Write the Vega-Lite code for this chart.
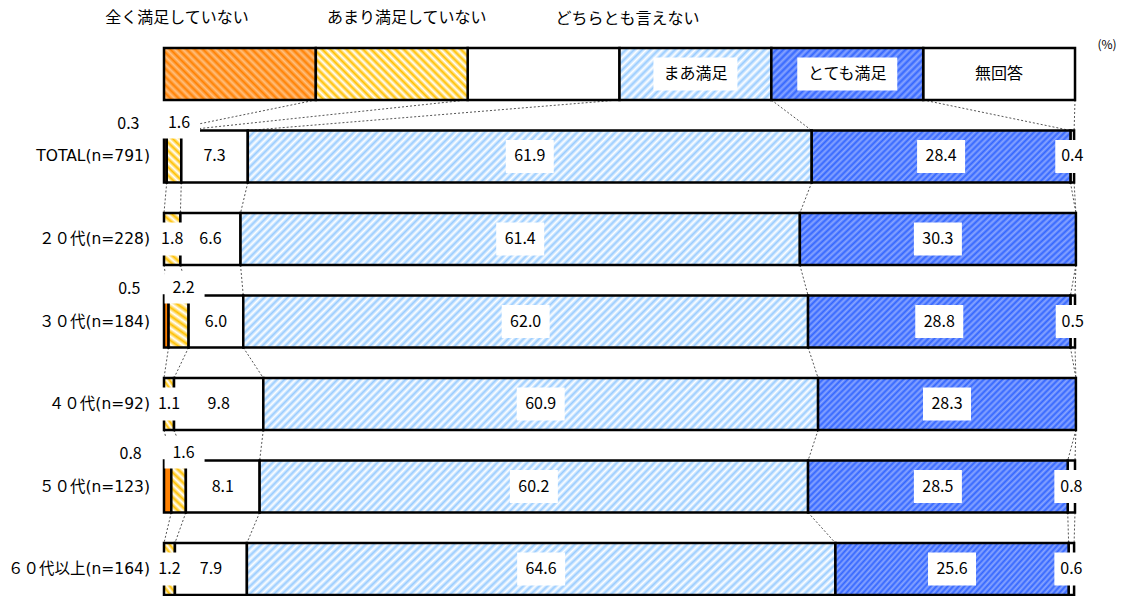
{
"$schema":"https://vega.github.io/schema/vega-lite/v6.json",
"width":911,"height":547,
"autosize":{"type":"none"},
"padding":{"left":164,"top":48,"right":58,"bottom":1},
"config":{"view":{"stroke":null},"text":{"font":"Noto Sans CJK JP","fontSize":16}},
"data":{"values":[
{"g":"legend","r":0,"k":1,"c":"全く満足していない","v":16.667},
{"g":"legend","r":0,"k":2,"c":"あまり満足していない","v":16.667},
{"g":"legend","r":0,"k":3,"c":"どちらとも言えない","v":16.667},
{"g":"legend","r":0,"k":4,"c":"まあ満足","v":16.667},
{"g":"legend","r":0,"k":5,"c":"とても満足","v":16.667},
{"g":"legend","r":0,"k":6,"c":"無回答","v":16.667},
{"g":"TOTAL(n=791)","r":1,"k":1,"v":0.3},{"g":"TOTAL(n=791)","r":1,"k":2,"v":1.6},{"g":"TOTAL(n=791)","r":1,"k":3,"v":7.3},{"g":"TOTAL(n=791)","r":1,"k":4,"v":61.9},{"g":"TOTAL(n=791)","r":1,"k":5,"v":28.4},{"g":"TOTAL(n=791)","r":1,"k":6,"v":0.4},
{"g":"２０代(n=228)","r":2,"k":1,"v":0},{"g":"２０代(n=228)","r":2,"k":2,"v":1.8},{"g":"２０代(n=228)","r":2,"k":3,"v":6.6},{"g":"２０代(n=228)","r":2,"k":4,"v":61.4},{"g":"２０代(n=228)","r":2,"k":5,"v":30.3},{"g":"２０代(n=228)","r":2,"k":6,"v":0},
{"g":"３０代(n=184)","r":3,"k":1,"v":0.5},{"g":"３０代(n=184)","r":3,"k":2,"v":2.2},{"g":"３０代(n=184)","r":3,"k":3,"v":6.0},{"g":"３０代(n=184)","r":3,"k":4,"v":62.0},{"g":"３０代(n=184)","r":3,"k":5,"v":28.8},{"g":"３０代(n=184)","r":3,"k":6,"v":0.5},
{"g":"４０代(n=92)","r":4,"k":1,"v":0},{"g":"４０代(n=92)","r":4,"k":2,"v":1.1},{"g":"４０代(n=92)","r":4,"k":3,"v":9.8},{"g":"４０代(n=92)","r":4,"k":4,"v":60.9},{"g":"４０代(n=92)","r":4,"k":5,"v":28.3},{"g":"４０代(n=92)","r":4,"k":6,"v":0},
{"g":"５０代(n=123)","r":5,"k":1,"v":0.8},{"g":"５０代(n=123)","r":5,"k":2,"v":1.6},{"g":"５０代(n=123)","r":5,"k":3,"v":8.1},{"g":"５０代(n=123)","r":5,"k":4,"v":60.2},{"g":"５０代(n=123)","r":5,"k":5,"v":28.5},{"g":"５０代(n=123)","r":5,"k":6,"v":0.8},
{"g":"６０代以上(n=164)","r":6,"k":1,"v":0},{"g":"６０代以上(n=164)","r":6,"k":2,"v":1.2},{"g":"６０代以上(n=164)","r":6,"k":3,"v":7.9},{"g":"６０代以上(n=164)","r":6,"k":4,"v":64.6},{"g":"６０代以上(n=164)","r":6,"k":5,"v":25.6},{"g":"６０代以上(n=164)","r":6,"k":6,"v":0.6}
]},
"transform":[
{"stack":"v","groupby":["g"],"sort":[{"field":"k","order":"ascending"}],"as":["x0","x1"]},
{"window":[{"op":"lead","field":"x1","as":"nx"},{"op":"lead","field":"g","as":"ng"}],"groupby":["k"],"sort":[{"field":"r","order":"ascending"}]},
{"window":[{"op":"lag","field":"v","as":"pv"}],"groupby":["g"],"sort":[{"field":"k","order":"ascending"}]},
{"calculate":"(datum.x0+datum.x1)/2","as":"xm"}
],
"layer":[
{"transform":[{"filter":"datum.ng != null"}],
 "mark":{"type":"rule","stroke":"#555","strokeWidth":1,"strokeDash":[2,2]},
 "encoding":{"x":{"field":"x1","type":"quantitative","scale":{"domain":[0,100],"nice":false,"zero":false},"axis":null},"x2":{"field":"nx"},
 "y":{"field":"g","type":"nominal","bandPosition":1,"scale":{"domain":["legend","TOTAL(n=791)","２０代(n=228)","３０代(n=184)","４０代(n=92)","５０代(n=123)","６０代以上(n=164)"],"paddingInner":0.37,"paddingOuter":0},"axis":null},"y2":{"field":"ng","bandPosition":0}}},

{"transform":[{"filter":"datum.r>0 && datum.k==1 && datum.v>0"}],
 "mark":{"type":"bar","fill":"#ff8000","stroke":"#000","strokeWidth":2.5},
 "encoding":{"x":{"field":"x0","type":"quantitative","scale":{"domain":[0,100],"nice":false,"zero":false},"axis":null},"x2":{"field":"x1"},"y":{"field":"g","type":"nominal","scale":{"domain":["legend","TOTAL(n=791)","２０代(n=228)","３０代(n=184)","４０代(n=92)","５０代(n=123)","６０代以上(n=164)"],"paddingInner":0.37,"paddingOuter":0},"axis":null}}},

{"transform":[{"filter":"datum.r>0 && datum.k==2 && datum.v>0"}],
 "mark":{"type":"bar","stroke":"#000","strokeWidth":2.5,"fill":{"gradient":"linear","x1":0,"y1":1,"x2":0.3186,"y2":-0.1835,"stops":[{"offset":0,"color":"#ffc000"},{"offset":0.0625,"color":"#fff"},{"offset":0.125,"color":"#ffc000"},{"offset":0.1875,"color":"#fff"},{"offset":0.25,"color":"#ffc000"},{"offset":0.3125,"color":"#fff"},{"offset":0.375,"color":"#ffc000"},{"offset":0.4375,"color":"#fff"},{"offset":0.5,"color":"#ffc000"},{"offset":0.5625,"color":"#fff"},{"offset":0.625,"color":"#ffc000"},{"offset":0.6875,"color":"#fff"},{"offset":0.75,"color":"#ffc000"},{"offset":0.8125,"color":"#fff"},{"offset":0.875,"color":"#ffc000"},{"offset":0.9375,"color":"#fff"},{"offset":1,"color":"#ffc000"}]}},
 "encoding":{"x":{"field":"x0","type":"quantitative","scale":{"domain":[0,100],"nice":false,"zero":false},"axis":null},"x2":{"field":"x1"},"y":{"field":"g","type":"nominal","scale":{"domain":["legend","TOTAL(n=791)","２０代(n=228)","３０代(n=184)","４０代(n=92)","５０代(n=123)","６０代以上(n=164)"],"paddingInner":0.37,"paddingOuter":0},"axis":null}}},

{"transform":[{"filter":"(datum.k==3 || datum.k==6) && datum.v>0"}],
 "mark":{"type":"bar","fill":"#fff","stroke":"#000","strokeWidth":2.5},
 "encoding":{"x":{"field":"x0","type":"quantitative","scale":{"domain":[0,100],"nice":false,"zero":false},"axis":null},"x2":{"field":"x1"},"y":{"field":"g","type":"nominal","scale":{"domain":["legend","TOTAL(n=791)","２０代(n=228)","３０代(n=184)","４０代(n=92)","５０代(n=123)","６０代以上(n=164)"],"paddingInner":0.37,"paddingOuter":0},"axis":null}}},

{"transform":[{"filter":"datum.r>0 && datum.k==4"}],
 "mark":{"type":"bar","stroke":"#000","strokeWidth":2.5,"fill":{"gradient":"linear","x1":0,"y1":0,"x2":1.0831,"y2":0.1,"stops":[
{"offset":0,"color":"#9cf"},{"offset":0.00625,"color":"#fff"},{"offset":0.0125,"color":"#9cf"},{"offset":0.01875,"color":"#fff"},{"offset":0.025,"color":"#9cf"},{"offset":0.03125,"color":"#fff"},{"offset":0.0375,"color":"#9cf"},{"offset":0.04375,"color":"#fff"},{"offset":0.05,"color":"#9cf"},{"offset":0.05625,"color":"#fff"},{"offset":0.0625,"color":"#9cf"},{"offset":0.06875,"color":"#fff"},{"offset":0.075,"color":"#9cf"},{"offset":0.08125,"color":"#fff"},{"offset":0.0875,"color":"#9cf"},{"offset":0.09375,"color":"#fff"},
{"offset":0.1,"color":"#9cf"},{"offset":0.10625,"color":"#fff"},{"offset":0.1125,"color":"#9cf"},{"offset":0.11875,"color":"#fff"},{"offset":0.125,"color":"#9cf"},{"offset":0.13125,"color":"#fff"},{"offset":0.1375,"color":"#9cf"},{"offset":0.14375,"color":"#fff"},{"offset":0.15,"color":"#9cf"},{"offset":0.15625,"color":"#fff"},{"offset":0.1625,"color":"#9cf"},{"offset":0.16875,"color":"#fff"},{"offset":0.175,"color":"#9cf"},{"offset":0.18125,"color":"#fff"},{"offset":0.1875,"color":"#9cf"},{"offset":0.19375,"color":"#fff"},
{"offset":0.2,"color":"#9cf"},{"offset":0.20625,"color":"#fff"},{"offset":0.2125,"color":"#9cf"},{"offset":0.21875,"color":"#fff"},{"offset":0.225,"color":"#9cf"},{"offset":0.23125,"color":"#fff"},{"offset":0.2375,"color":"#9cf"},{"offset":0.24375,"color":"#fff"},{"offset":0.25,"color":"#9cf"},{"offset":0.25625,"color":"#fff"},{"offset":0.2625,"color":"#9cf"},{"offset":0.26875,"color":"#fff"},{"offset":0.275,"color":"#9cf"},{"offset":0.28125,"color":"#fff"},{"offset":0.2875,"color":"#9cf"},{"offset":0.29375,"color":"#fff"},
{"offset":0.3,"color":"#9cf"},{"offset":0.30625,"color":"#fff"},{"offset":0.3125,"color":"#9cf"},{"offset":0.31875,"color":"#fff"},{"offset":0.325,"color":"#9cf"},{"offset":0.33125,"color":"#fff"},{"offset":0.3375,"color":"#9cf"},{"offset":0.34375,"color":"#fff"},{"offset":0.35,"color":"#9cf"},{"offset":0.35625,"color":"#fff"},{"offset":0.3625,"color":"#9cf"},{"offset":0.36875,"color":"#fff"},{"offset":0.375,"color":"#9cf"},{"offset":0.38125,"color":"#fff"},{"offset":0.3875,"color":"#9cf"},{"offset":0.39375,"color":"#fff"},
{"offset":0.4,"color":"#9cf"},{"offset":0.40625,"color":"#fff"},{"offset":0.4125,"color":"#9cf"},{"offset":0.41875,"color":"#fff"},{"offset":0.425,"color":"#9cf"},{"offset":0.43125,"color":"#fff"},{"offset":0.4375,"color":"#9cf"},{"offset":0.44375,"color":"#fff"},{"offset":0.45,"color":"#9cf"},{"offset":0.45625,"color":"#fff"},{"offset":0.4625,"color":"#9cf"},{"offset":0.46875,"color":"#fff"},{"offset":0.475,"color":"#9cf"},{"offset":0.48125,"color":"#fff"},{"offset":0.4875,"color":"#9cf"},{"offset":0.49375,"color":"#fff"},
{"offset":0.5,"color":"#9cf"},{"offset":0.50625,"color":"#fff"},{"offset":0.5125,"color":"#9cf"},{"offset":0.51875,"color":"#fff"},{"offset":0.525,"color":"#9cf"},{"offset":0.53125,"color":"#fff"},{"offset":0.5375,"color":"#9cf"},{"offset":0.54375,"color":"#fff"},{"offset":0.55,"color":"#9cf"},{"offset":0.55625,"color":"#fff"},{"offset":0.5625,"color":"#9cf"},{"offset":0.56875,"color":"#fff"},{"offset":0.575,"color":"#9cf"},{"offset":0.58125,"color":"#fff"},{"offset":0.5875,"color":"#9cf"},{"offset":0.59375,"color":"#fff"},
{"offset":0.6,"color":"#9cf"},{"offset":0.60625,"color":"#fff"},{"offset":0.6125,"color":"#9cf"},{"offset":0.61875,"color":"#fff"},{"offset":0.625,"color":"#9cf"},{"offset":0.63125,"color":"#fff"},{"offset":0.6375,"color":"#9cf"},{"offset":0.64375,"color":"#fff"},{"offset":0.65,"color":"#9cf"},{"offset":0.65625,"color":"#fff"},{"offset":0.6625,"color":"#9cf"},{"offset":0.66875,"color":"#fff"},{"offset":0.675,"color":"#9cf"},{"offset":0.68125,"color":"#fff"},{"offset":0.6875,"color":"#9cf"},{"offset":0.69375,"color":"#fff"},
{"offset":0.7,"color":"#9cf"},{"offset":0.70625,"color":"#fff"},{"offset":0.7125,"color":"#9cf"},{"offset":0.71875,"color":"#fff"},{"offset":0.725,"color":"#9cf"},{"offset":0.73125,"color":"#fff"},{"offset":0.7375,"color":"#9cf"},{"offset":0.74375,"color":"#fff"},{"offset":0.75,"color":"#9cf"},{"offset":0.75625,"color":"#fff"},{"offset":0.7625,"color":"#9cf"},{"offset":0.76875,"color":"#fff"},{"offset":0.775,"color":"#9cf"},{"offset":0.78125,"color":"#fff"},{"offset":0.7875,"color":"#9cf"},{"offset":0.79375,"color":"#fff"},
{"offset":0.8,"color":"#9cf"},{"offset":0.80625,"color":"#fff"},{"offset":0.8125,"color":"#9cf"},{"offset":0.81875,"color":"#fff"},{"offset":0.825,"color":"#9cf"},{"offset":0.83125,"color":"#fff"},{"offset":0.8375,"color":"#9cf"},{"offset":0.84375,"color":"#fff"},{"offset":0.85,"color":"#9cf"},{"offset":0.85625,"color":"#fff"},{"offset":0.8625,"color":"#9cf"},{"offset":0.86875,"color":"#fff"},{"offset":0.875,"color":"#9cf"},{"offset":0.88125,"color":"#fff"},{"offset":0.8875,"color":"#9cf"},{"offset":0.89375,"color":"#fff"},
{"offset":0.9,"color":"#9cf"},{"offset":0.90625,"color":"#fff"},{"offset":0.9125,"color":"#9cf"},{"offset":0.91875,"color":"#fff"},{"offset":0.925,"color":"#9cf"},{"offset":0.93125,"color":"#fff"},{"offset":0.9375,"color":"#9cf"},{"offset":0.94375,"color":"#fff"},{"offset":0.95,"color":"#9cf"},{"offset":0.95625,"color":"#fff"},{"offset":0.9625,"color":"#9cf"},{"offset":0.96875,"color":"#fff"},{"offset":0.975,"color":"#9cf"},{"offset":0.98125,"color":"#fff"},{"offset":0.9875,"color":"#9cf"},{"offset":0.99375,"color":"#fff"},
{"offset":1,"color":"#9cf"}]}},
 "encoding":{"x":{"field":"x0","type":"quantitative","scale":{"domain":[0,100],"nice":false,"zero":false},"axis":null},"x2":{"field":"x1"},"y":{"field":"g","type":"nominal","scale":{"domain":["legend","TOTAL(n=791)","２０代(n=228)","３０代(n=184)","４０代(n=92)","５０代(n=123)","６０代以上(n=164)"],"paddingInner":0.37,"paddingOuter":0},"axis":null}}},

{"transform":[{"filter":"datum.r>0 && datum.k==5"}],
 "mark":{"type":"bar","stroke":"#000","strokeWidth":2.5,"fill":{"gradient":"linear","x1":0,"y1":0,"x2":1.1547,"y2":0.2327,"stops":[
{"offset":0,"color":"#36f"},{"offset":0.01,"color":"#8aa6ff"},{"offset":0.02,"color":"#36f"},{"offset":0.03,"color":"#8aa6ff"},{"offset":0.04,"color":"#36f"},{"offset":0.05,"color":"#8aa6ff"},{"offset":0.06,"color":"#36f"},{"offset":0.07,"color":"#8aa6ff"},{"offset":0.08,"color":"#36f"},{"offset":0.09,"color":"#8aa6ff"},
{"offset":0.1,"color":"#36f"},{"offset":0.11,"color":"#8aa6ff"},{"offset":0.12,"color":"#36f"},{"offset":0.13,"color":"#8aa6ff"},{"offset":0.14,"color":"#36f"},{"offset":0.15,"color":"#8aa6ff"},{"offset":0.16,"color":"#36f"},{"offset":0.17,"color":"#8aa6ff"},{"offset":0.18,"color":"#36f"},{"offset":0.19,"color":"#8aa6ff"},
{"offset":0.2,"color":"#36f"},{"offset":0.21,"color":"#8aa6ff"},{"offset":0.22,"color":"#36f"},{"offset":0.23,"color":"#8aa6ff"},{"offset":0.24,"color":"#36f"},{"offset":0.25,"color":"#8aa6ff"},{"offset":0.26,"color":"#36f"},{"offset":0.27,"color":"#8aa6ff"},{"offset":0.28,"color":"#36f"},{"offset":0.29,"color":"#8aa6ff"},
{"offset":0.3,"color":"#36f"},{"offset":0.31,"color":"#8aa6ff"},{"offset":0.32,"color":"#36f"},{"offset":0.33,"color":"#8aa6ff"},{"offset":0.34,"color":"#36f"},{"offset":0.35,"color":"#8aa6ff"},{"offset":0.36,"color":"#36f"},{"offset":0.37,"color":"#8aa6ff"},{"offset":0.38,"color":"#36f"},{"offset":0.39,"color":"#8aa6ff"},
{"offset":0.4,"color":"#36f"},{"offset":0.41,"color":"#8aa6ff"},{"offset":0.42,"color":"#36f"},{"offset":0.43,"color":"#8aa6ff"},{"offset":0.44,"color":"#36f"},{"offset":0.45,"color":"#8aa6ff"},{"offset":0.46,"color":"#36f"},{"offset":0.47,"color":"#8aa6ff"},{"offset":0.48,"color":"#36f"},{"offset":0.49,"color":"#8aa6ff"},
{"offset":0.5,"color":"#36f"},{"offset":0.51,"color":"#8aa6ff"},{"offset":0.52,"color":"#36f"},{"offset":0.53,"color":"#8aa6ff"},{"offset":0.54,"color":"#36f"},{"offset":0.55,"color":"#8aa6ff"},{"offset":0.56,"color":"#36f"},{"offset":0.57,"color":"#8aa6ff"},{"offset":0.58,"color":"#36f"},{"offset":0.59,"color":"#8aa6ff"},
{"offset":0.6,"color":"#36f"},{"offset":0.61,"color":"#8aa6ff"},{"offset":0.62,"color":"#36f"},{"offset":0.63,"color":"#8aa6ff"},{"offset":0.64,"color":"#36f"},{"offset":0.65,"color":"#8aa6ff"},{"offset":0.66,"color":"#36f"},{"offset":0.67,"color":"#8aa6ff"},{"offset":0.68,"color":"#36f"},{"offset":0.69,"color":"#8aa6ff"},
{"offset":0.7,"color":"#36f"},{"offset":0.71,"color":"#8aa6ff"},{"offset":0.72,"color":"#36f"},{"offset":0.73,"color":"#8aa6ff"},{"offset":0.74,"color":"#36f"},{"offset":0.75,"color":"#8aa6ff"},{"offset":0.76,"color":"#36f"},{"offset":0.77,"color":"#8aa6ff"},{"offset":0.78,"color":"#36f"},{"offset":0.79,"color":"#8aa6ff"},
{"offset":0.8,"color":"#36f"},{"offset":0.81,"color":"#8aa6ff"},{"offset":0.82,"color":"#36f"},{"offset":0.83,"color":"#8aa6ff"},{"offset":0.84,"color":"#36f"},{"offset":0.85,"color":"#8aa6ff"},{"offset":0.86,"color":"#36f"},{"offset":0.87,"color":"#8aa6ff"},{"offset":0.88,"color":"#36f"},{"offset":0.89,"color":"#8aa6ff"},
{"offset":0.9,"color":"#36f"},{"offset":0.91,"color":"#8aa6ff"},{"offset":0.92,"color":"#36f"},{"offset":0.93,"color":"#8aa6ff"},{"offset":0.94,"color":"#36f"},{"offset":0.95,"color":"#8aa6ff"},{"offset":0.96,"color":"#36f"},{"offset":0.97,"color":"#8aa6ff"},{"offset":0.98,"color":"#36f"},{"offset":0.99,"color":"#8aa6ff"},
{"offset":1,"color":"#36f"}]}},
 "encoding":{"x":{"field":"x0","type":"quantitative","scale":{"domain":[0,100],"nice":false,"zero":false},"axis":null},"x2":{"field":"x1"},"y":{"field":"g","type":"nominal","scale":{"domain":["legend","TOTAL(n=791)","２０代(n=228)","３０代(n=184)","４０代(n=92)","５０代(n=123)","６０代以上(n=164)"],"paddingInner":0.37,"paddingOuter":0},"axis":null}}},

{"transform":[{"filter":"datum.r==0 && datum.k==1"}],
 "mark":{"type":"bar","stroke":"#000","strokeWidth":2.5,"fill":{"gradient":"linear","x1":0,"y1":1,"x2":1.2015,"y2":0.5885,"stops":[
{"offset":0,"color":"#ff8000"},{"offset":0.02,"color":"#ffc080"},{"offset":0.04,"color":"#ff8000"},{"offset":0.06,"color":"#ffc080"},{"offset":0.08,"color":"#ff8000"},{"offset":0.1,"color":"#ffc080"},{"offset":0.12,"color":"#ff8000"},{"offset":0.14,"color":"#ffc080"},{"offset":0.16,"color":"#ff8000"},{"offset":0.18,"color":"#ffc080"},{"offset":0.2,"color":"#ff8000"},{"offset":0.22,"color":"#ffc080"},{"offset":0.24,"color":"#ff8000"},{"offset":0.26,"color":"#ffc080"},{"offset":0.28,"color":"#ff8000"},{"offset":0.3,"color":"#ffc080"},{"offset":0.32,"color":"#ff8000"},{"offset":0.34,"color":"#ffc080"},{"offset":0.36,"color":"#ff8000"},{"offset":0.38,"color":"#ffc080"},{"offset":0.4,"color":"#ff8000"},{"offset":0.42,"color":"#ffc080"},{"offset":0.44,"color":"#ff8000"},{"offset":0.46,"color":"#ffc080"},{"offset":0.48,"color":"#ff8000"},{"offset":0.5,"color":"#ffc080"},{"offset":0.52,"color":"#ff8000"},{"offset":0.54,"color":"#ffc080"},{"offset":0.56,"color":"#ff8000"},{"offset":0.58,"color":"#ffc080"},{"offset":0.6,"color":"#ff8000"},{"offset":0.62,"color":"#ffc080"},{"offset":0.64,"color":"#ff8000"},{"offset":0.66,"color":"#ffc080"},{"offset":0.68,"color":"#ff8000"},{"offset":0.7,"color":"#ffc080"},{"offset":0.72,"color":"#ff8000"},{"offset":0.74,"color":"#ffc080"},{"offset":0.76,"color":"#ff8000"},{"offset":0.78,"color":"#ffc080"},{"offset":0.8,"color":"#ff8000"},{"offset":0.82,"color":"#ffc080"},{"offset":0.84,"color":"#ff8000"},{"offset":0.86,"color":"#ffc080"},{"offset":0.88,"color":"#ff8000"},{"offset":0.9,"color":"#ffc080"},{"offset":0.92,"color":"#ff8000"},{"offset":0.94,"color":"#ffc080"},{"offset":0.96,"color":"#ff8000"},{"offset":0.98,"color":"#ffc080"},{"offset":1,"color":"#ff8000"}]}},
 "encoding":{"x":{"field":"x0","type":"quantitative","scale":{"domain":[0,100],"nice":false,"zero":false},"axis":null},"x2":{"field":"x1"},"y":{"field":"g","type":"nominal","scale":{"domain":["legend","TOTAL(n=791)","２０代(n=228)","３０代(n=184)","４０代(n=92)","５０代(n=123)","６０代以上(n=164)"],"paddingInner":0.37,"paddingOuter":0},"axis":null}}},

{"transform":[{"filter":"datum.r==0 && datum.k==2"}],
 "mark":{"type":"bar","stroke":"#000","strokeWidth":2.5,"fill":{"gradient":"linear","x1":0,"y1":1,"x2":1.2015,"y2":0.5885,"stops":[
{"offset":0,"color":"#ffc000"},{"offset":0.02,"color":"#fff"},{"offset":0.04,"color":"#ffc000"},{"offset":0.06,"color":"#fff"},{"offset":0.08,"color":"#ffc000"},{"offset":0.1,"color":"#fff"},{"offset":0.12,"color":"#ffc000"},{"offset":0.14,"color":"#fff"},{"offset":0.16,"color":"#ffc000"},{"offset":0.18,"color":"#fff"},{"offset":0.2,"color":"#ffc000"},{"offset":0.22,"color":"#fff"},{"offset":0.24,"color":"#ffc000"},{"offset":0.26,"color":"#fff"},{"offset":0.28,"color":"#ffc000"},{"offset":0.3,"color":"#fff"},{"offset":0.32,"color":"#ffc000"},{"offset":0.34,"color":"#fff"},{"offset":0.36,"color":"#ffc000"},{"offset":0.38,"color":"#fff"},{"offset":0.4,"color":"#ffc000"},{"offset":0.42,"color":"#fff"},{"offset":0.44,"color":"#ffc000"},{"offset":0.46,"color":"#fff"},{"offset":0.48,"color":"#ffc000"},{"offset":0.5,"color":"#fff"},{"offset":0.52,"color":"#ffc000"},{"offset":0.54,"color":"#fff"},{"offset":0.56,"color":"#ffc000"},{"offset":0.58,"color":"#fff"},{"offset":0.6,"color":"#ffc000"},{"offset":0.62,"color":"#fff"},{"offset":0.64,"color":"#ffc000"},{"offset":0.66,"color":"#fff"},{"offset":0.68,"color":"#ffc000"},{"offset":0.7,"color":"#fff"},{"offset":0.72,"color":"#ffc000"},{"offset":0.74,"color":"#fff"},{"offset":0.76,"color":"#ffc000"},{"offset":0.78,"color":"#fff"},{"offset":0.8,"color":"#ffc000"},{"offset":0.82,"color":"#fff"},{"offset":0.84,"color":"#ffc000"},{"offset":0.86,"color":"#fff"},{"offset":0.88,"color":"#ffc000"},{"offset":0.9,"color":"#fff"},{"offset":0.92,"color":"#ffc000"},{"offset":0.94,"color":"#fff"},{"offset":0.96,"color":"#ffc000"},{"offset":0.98,"color":"#fff"},{"offset":1,"color":"#ffc000"}]}},
 "encoding":{"x":{"field":"x0","type":"quantitative","scale":{"domain":[0,100],"nice":false,"zero":false},"axis":null},"x2":{"field":"x1"},"y":{"field":"g","type":"nominal","scale":{"domain":["legend","TOTAL(n=791)","２０代(n=228)","３０代(n=184)","４０代(n=92)","５０代(n=123)","６０代以上(n=164)"],"paddingInner":0.37,"paddingOuter":0},"axis":null}}},

{"transform":[{"filter":"datum.r==0 && datum.k==4"}],
 "mark":{"type":"bar","stroke":"#000","strokeWidth":2.5,"fill":{"gradient":"linear","x1":0,"y1":0,"x2":1.2015,"y2":0.4115,"stops":[
{"offset":0,"color":"#9cf"},{"offset":0.02,"color":"#fff"},{"offset":0.04,"color":"#9cf"},{"offset":0.06,"color":"#fff"},{"offset":0.08,"color":"#9cf"},{"offset":0.1,"color":"#fff"},{"offset":0.12,"color":"#9cf"},{"offset":0.14,"color":"#fff"},{"offset":0.16,"color":"#9cf"},{"offset":0.18,"color":"#fff"},{"offset":0.2,"color":"#9cf"},{"offset":0.22,"color":"#fff"},{"offset":0.24,"color":"#9cf"},{"offset":0.26,"color":"#fff"},{"offset":0.28,"color":"#9cf"},{"offset":0.3,"color":"#fff"},{"offset":0.32,"color":"#9cf"},{"offset":0.34,"color":"#fff"},{"offset":0.36,"color":"#9cf"},{"offset":0.38,"color":"#fff"},{"offset":0.4,"color":"#9cf"},{"offset":0.42,"color":"#fff"},{"offset":0.44,"color":"#9cf"},{"offset":0.46,"color":"#fff"},{"offset":0.48,"color":"#9cf"},{"offset":0.5,"color":"#fff"},{"offset":0.52,"color":"#9cf"},{"offset":0.54,"color":"#fff"},{"offset":0.56,"color":"#9cf"},{"offset":0.58,"color":"#fff"},{"offset":0.6,"color":"#9cf"},{"offset":0.62,"color":"#fff"},{"offset":0.64,"color":"#9cf"},{"offset":0.66,"color":"#fff"},{"offset":0.68,"color":"#9cf"},{"offset":0.7,"color":"#fff"},{"offset":0.72,"color":"#9cf"},{"offset":0.74,"color":"#fff"},{"offset":0.76,"color":"#9cf"},{"offset":0.78,"color":"#fff"},{"offset":0.8,"color":"#9cf"},{"offset":0.82,"color":"#fff"},{"offset":0.84,"color":"#9cf"},{"offset":0.86,"color":"#fff"},{"offset":0.88,"color":"#9cf"},{"offset":0.9,"color":"#fff"},{"offset":0.92,"color":"#9cf"},{"offset":0.94,"color":"#fff"},{"offset":0.96,"color":"#9cf"},{"offset":0.98,"color":"#fff"},{"offset":1,"color":"#9cf"}]}},
 "encoding":{"x":{"field":"x0","type":"quantitative","scale":{"domain":[0,100],"nice":false,"zero":false},"axis":null},"x2":{"field":"x1"},"y":{"field":"g","type":"nominal","scale":{"domain":["legend","TOTAL(n=791)","２０代(n=228)","３０代(n=184)","４０代(n=92)","５０代(n=123)","６０代以上(n=164)"],"paddingInner":0.37,"paddingOuter":0},"axis":null}}},

{"transform":[{"filter":"datum.r==0 && datum.k==5"}],
 "mark":{"type":"bar","stroke":"#000","strokeWidth":2.5,"fill":{"gradient":"linear","x1":0,"y1":0,"x2":1.2015,"y2":0.4115,"stops":[
{"offset":0,"color":"#36f"},{"offset":0.0167,"color":"#8aa6ff"},{"offset":0.0333,"color":"#36f"},{"offset":0.05,"color":"#8aa6ff"},{"offset":0.0667,"color":"#36f"},{"offset":0.0833,"color":"#8aa6ff"},{"offset":0.1,"color":"#36f"},{"offset":0.1167,"color":"#8aa6ff"},{"offset":0.1333,"color":"#36f"},{"offset":0.15,"color":"#8aa6ff"},{"offset":0.1667,"color":"#36f"},{"offset":0.1833,"color":"#8aa6ff"},{"offset":0.2,"color":"#36f"},{"offset":0.2167,"color":"#8aa6ff"},{"offset":0.2333,"color":"#36f"},{"offset":0.25,"color":"#8aa6ff"},{"offset":0.2667,"color":"#36f"},{"offset":0.2833,"color":"#8aa6ff"},{"offset":0.3,"color":"#36f"},{"offset":0.3167,"color":"#8aa6ff"},{"offset":0.3333,"color":"#36f"},{"offset":0.35,"color":"#8aa6ff"},{"offset":0.3667,"color":"#36f"},{"offset":0.3833,"color":"#8aa6ff"},{"offset":0.4,"color":"#36f"},{"offset":0.4167,"color":"#8aa6ff"},{"offset":0.4333,"color":"#36f"},{"offset":0.45,"color":"#8aa6ff"},{"offset":0.4667,"color":"#36f"},{"offset":0.4833,"color":"#8aa6ff"},{"offset":0.5,"color":"#36f"},{"offset":0.5167,"color":"#8aa6ff"},{"offset":0.5333,"color":"#36f"},{"offset":0.55,"color":"#8aa6ff"},{"offset":0.5667,"color":"#36f"},{"offset":0.5833,"color":"#8aa6ff"},{"offset":0.6,"color":"#36f"},{"offset":0.6167,"color":"#8aa6ff"},{"offset":0.6333,"color":"#36f"},{"offset":0.65,"color":"#8aa6ff"},{"offset":0.6667,"color":"#36f"},{"offset":0.6833,"color":"#8aa6ff"},{"offset":0.7,"color":"#36f"},{"offset":0.7167,"color":"#8aa6ff"},{"offset":0.7333,"color":"#36f"},{"offset":0.75,"color":"#8aa6ff"},{"offset":0.7667,"color":"#36f"},{"offset":0.7833,"color":"#8aa6ff"},{"offset":0.8,"color":"#36f"},{"offset":0.8167,"color":"#8aa6ff"},{"offset":0.8333,"color":"#36f"},{"offset":0.85,"color":"#8aa6ff"},{"offset":0.8667,"color":"#36f"},{"offset":0.8833,"color":"#8aa6ff"},{"offset":0.9,"color":"#36f"},{"offset":0.9167,"color":"#8aa6ff"},{"offset":0.9333,"color":"#36f"},{"offset":0.95,"color":"#8aa6ff"},{"offset":0.9667,"color":"#36f"},{"offset":0.9833,"color":"#8aa6ff"},{"offset":1,"color":"#36f"}]}},
 "encoding":{"x":{"field":"x0","type":"quantitative","scale":{"domain":[0,100],"nice":false,"zero":false},"axis":null},"x2":{"field":"x1"},"y":{"field":"g","type":"nominal","scale":{"domain":["legend","TOTAL(n=791)","２０代(n=228)","３０代(n=184)","４０代(n=92)","５０代(n=123)","６０代以上(n=164)"],"paddingInner":0.37,"paddingOuter":0},"axis":null}}},

{"transform":[{"filter":"datum.r>0 && (datum.k==4 || datum.k==5)"}],
 "mark":{"type":"point","filled":true,"fill":"#fff","strokeWidth":0,"opacity":1,"size":4,"shape":"M-24,-16.5H24V16.5H-24Z"},
 "encoding":{"x":{"field":"xm","type":"quantitative","scale":{"domain":[0,100],"nice":false,"zero":false},"axis":null},"y":{"field":"g","type":"nominal","scale":{"domain":["legend","TOTAL(n=791)","２０代(n=228)","３０代(n=184)","４０代(n=92)","５０代(n=123)","６０代以上(n=164)"],"paddingInner":0.37,"paddingOuter":0},"axis":null}}},
{"transform":[{"filter":"datum.r>0 && datum.k==6 && datum.v>0"}],
 "mark":{"type":"point","filled":true,"fill":"#fff","strokeWidth":0,"opacity":1,"size":4,"shape":"M-17,-16.5H15V16.5H-17Z"},
 "encoding":{"x":{"field":"xm","type":"quantitative","scale":{"domain":[0,100],"nice":false,"zero":false},"axis":null},"y":{"field":"g","type":"nominal","scale":{"domain":["legend","TOTAL(n=791)","２０代(n=228)","３０代(n=184)","４０代(n=92)","５０代(n=123)","６０代以上(n=164)"],"paddingInner":0.37,"paddingOuter":0},"axis":null}}},
{"transform":[{"filter":"datum.r>0 && datum.k==2 && datum.pv==0"}],
 "mark":{"type":"point","filled":true,"fill":"#fff","strokeWidth":0,"opacity":1,"size":4,"shape":"M-15,-16.5H15V16.5H-15Z"},
 "encoding":{"x":{"field":"xm","type":"quantitative","scale":{"domain":[0,100],"nice":false,"zero":false},"axis":null},"y":{"field":"g","type":"nominal","scale":{"domain":["legend","TOTAL(n=791)","２０代(n=228)","３０代(n=184)","４０代(n=92)","５０代(n=123)","６０代以上(n=164)"],"paddingInner":0.37,"paddingOuter":0},"axis":null}}},
{"transform":[{"filter":"datum.r>0 && datum.k==2 && datum.pv>0"}],
 "mark":{"type":"point","filled":true,"fill":"#fff","strokeWidth":0,"opacity":1,"size":4,"shape":"M-14,-24H26V8H-14Z"},
 "encoding":{"x":{"field":"xm","type":"quantitative","scale":{"domain":[0,100],"nice":false,"zero":false},"axis":null},"y":{"field":"g","type":"nominal","bandPosition":0,"scale":{"domain":["legend","TOTAL(n=791)","２０代(n=228)","３０代(n=184)","４０代(n=92)","５０代(n=123)","６０代以上(n=164)"],"paddingInner":0.37,"paddingOuter":0},"axis":null}}},
{"transform":[{"filter":"datum.r==0 && datum.k==4"}],
 "mark":{"type":"point","filled":true,"fill":"#fff","strokeWidth":0,"opacity":1,"size":4,"shape":"M-42,-16.5H42V16.5H-42Z"},
 "encoding":{"x":{"field":"xm","type":"quantitative","scale":{"domain":[0,100],"nice":false,"zero":false},"axis":null},"y":{"field":"g","type":"nominal","scale":{"domain":["legend","TOTAL(n=791)","２０代(n=228)","３０代(n=184)","４０代(n=92)","５０代(n=123)","６０代以上(n=164)"],"paddingInner":0.37,"paddingOuter":0},"axis":null}}},
{"transform":[{"filter":"datum.r==0 && datum.k==5"}],
 "mark":{"type":"point","filled":true,"fill":"#fff","strokeWidth":0,"opacity":1,"size":4,"shape":"M-50,-16.5H50V16.5H-50Z"},
 "encoding":{"x":{"field":"xm","type":"quantitative","scale":{"domain":[0,100],"nice":false,"zero":false},"axis":null},"y":{"field":"g","type":"nominal","scale":{"domain":["legend","TOTAL(n=791)","２０代(n=228)","３０代(n=184)","４０代(n=92)","５０代(n=123)","６０代以上(n=164)"],"paddingInner":0.37,"paddingOuter":0},"axis":null}}},

{"transform":[{"filter":"datum.r>0 && datum.k>=3 && datum.v>0"}],
 "mark":{"type":"text","fill":"#000"},
 "encoding":{"text":{"field":"v","type":"quantitative","format":".1f"},"x":{"field":"xm","type":"quantitative","scale":{"domain":[0,100],"nice":false,"zero":false},"axis":null},"y":{"field":"g","type":"nominal","scale":{"domain":["legend","TOTAL(n=791)","２０代(n=228)","３０代(n=184)","４０代(n=92)","５０代(n=123)","６０代以上(n=164)"],"paddingInner":0.37,"paddingOuter":0},"axis":null}}},
{"transform":[{"filter":"datum.r>0 && datum.k==2 && datum.pv==0"}],
 "mark":{"type":"text","fill":"#000"},
 "encoding":{"text":{"field":"v","type":"quantitative","format":".1f"},"x":{"field":"xm","type":"quantitative","scale":{"domain":[0,100],"nice":false,"zero":false},"axis":null},"y":{"field":"g","type":"nominal","scale":{"domain":["legend","TOTAL(n=791)","２０代(n=228)","３０代(n=184)","４０代(n=92)","５０代(n=123)","６０代以上(n=164)"],"paddingInner":0.37,"paddingOuter":0},"axis":null}}},
{"transform":[{"filter":"datum.r>0 && datum.k==2 && datum.pv>0"}],
 "mark":{"type":"text","fill":"#000","dx":5,"dy":-8},
 "encoding":{"text":{"field":"v","type":"quantitative","format":".1f"},"x":{"field":"xm","type":"quantitative","scale":{"domain":[0,100],"nice":false,"zero":false},"axis":null},"y":{"field":"g","type":"nominal","bandPosition":0,"scale":{"domain":["legend","TOTAL(n=791)","２０代(n=228)","３０代(n=184)","４０代(n=92)","５０代(n=123)","６０代以上(n=164)"],"paddingInner":0.37,"paddingOuter":0},"axis":null}}},
{"transform":[{"filter":"datum.r>0 && datum.k==1 && datum.v>0"}],
 "mark":{"type":"text","fill":"#000","dx":-37,"dy":-7},
 "encoding":{"text":{"field":"v","type":"quantitative","format":".1f"},"x":{"field":"xm","type":"quantitative","scale":{"domain":[0,100],"nice":false,"zero":false},"axis":null},"y":{"field":"g","type":"nominal","bandPosition":0,"scale":{"domain":["legend","TOTAL(n=791)","２０代(n=228)","３０代(n=184)","４０代(n=92)","５０代(n=123)","６０代以上(n=164)"],"paddingInner":0.37,"paddingOuter":0},"axis":null}}},
{"transform":[{"filter":"datum.r>0 && datum.k==1"}],
 "mark":{"type":"text","fill":"#000","align":"right","dx":-14,"font":"DejaVu Sans, Noto Sans CJK JP","fontSize":15.5},
 "encoding":{"text":{"field":"g"},"x":{"field":"x0","type":"quantitative","scale":{"domain":[0,100],"nice":false,"zero":false},"axis":null},"y":{"field":"g","type":"nominal","scale":{"domain":["legend","TOTAL(n=791)","２０代(n=228)","３０代(n=184)","４０代(n=92)","５０代(n=123)","６０代以上(n=164)"],"paddingInner":0.37,"paddingOuter":0},"axis":null}}},
{"transform":[{"filter":"datum.r==0 && datum.k>=4"}],
 "mark":{"type":"text","fill":"#000"},
 "encoding":{"text":{"field":"c"},"x":{"field":"xm","type":"quantitative","scale":{"domain":[0,100],"nice":false,"zero":false},"axis":null},"y":{"field":"g","type":"nominal","scale":{"domain":["legend","TOTAL(n=791)","２０代(n=228)","３０代(n=184)","４０代(n=92)","５０代(n=123)","６０代以上(n=164)"],"paddingInner":0.37,"paddingOuter":0},"axis":null}}},
{"transform":[{"filter":"datum.r==0 && datum.k==1"}],
 "mark":{"type":"text","fill":"#000","dx":-63,"dy":-56},
 "encoding":{"text":{"field":"c"},"x":{"field":"xm","type":"quantitative","scale":{"domain":[0,100],"nice":false,"zero":false},"axis":null},"y":{"field":"g","type":"nominal","scale":{"domain":["legend","TOTAL(n=791)","２０代(n=228)","３０代(n=184)","４０代(n=92)","５０代(n=123)","６０代以上(n=164)"],"paddingInner":0.37,"paddingOuter":0},"axis":null}}},
{"transform":[{"filter":"datum.r==0 && datum.k==2"}],
 "mark":{"type":"text","fill":"#000","dx":15,"dy":-56},
 "encoding":{"text":{"field":"c"},"x":{"field":"xm","type":"quantitative","scale":{"domain":[0,100],"nice":false,"zero":false},"axis":null},"y":{"field":"g","type":"nominal","scale":{"domain":["legend","TOTAL(n=791)","２０代(n=228)","３０代(n=184)","４０代(n=92)","５０代(n=123)","６０代以上(n=164)"],"paddingInner":0.37,"paddingOuter":0},"axis":null}}},
{"transform":[{"filter":"datum.r==0 && datum.k==3"}],
 "mark":{"type":"text","fill":"#000","dx":84,"dy":-55},
 "encoding":{"text":{"field":"c"},"x":{"field":"xm","type":"quantitative","scale":{"domain":[0,100],"nice":false,"zero":false},"axis":null},"y":{"field":"g","type":"nominal","scale":{"domain":["legend","TOTAL(n=791)","２０代(n=228)","３０代(n=184)","４０代(n=92)","５０代(n=123)","６０代以上(n=164)"],"paddingInner":0.37,"paddingOuter":0},"axis":null}}},
{"transform":[{"filter":"datum.r==0 && datum.k==6"}],
 "mark":{"type":"text","fill":"#000","text":"(%)","fontSize":12,"dx":32,"dy":-3},
 "encoding":{"x":{"field":"x1","type":"quantitative","scale":{"domain":[0,100],"nice":false,"zero":false},"axis":null},"y":{"field":"g","type":"nominal","bandPosition":0,"scale":{"domain":["legend","TOTAL(n=791)","２０代(n=228)","３０代(n=184)","４０代(n=92)","５０代(n=123)","６０代以上(n=164)"],"paddingInner":0.37,"paddingOuter":0},"axis":null}}}
]
}
